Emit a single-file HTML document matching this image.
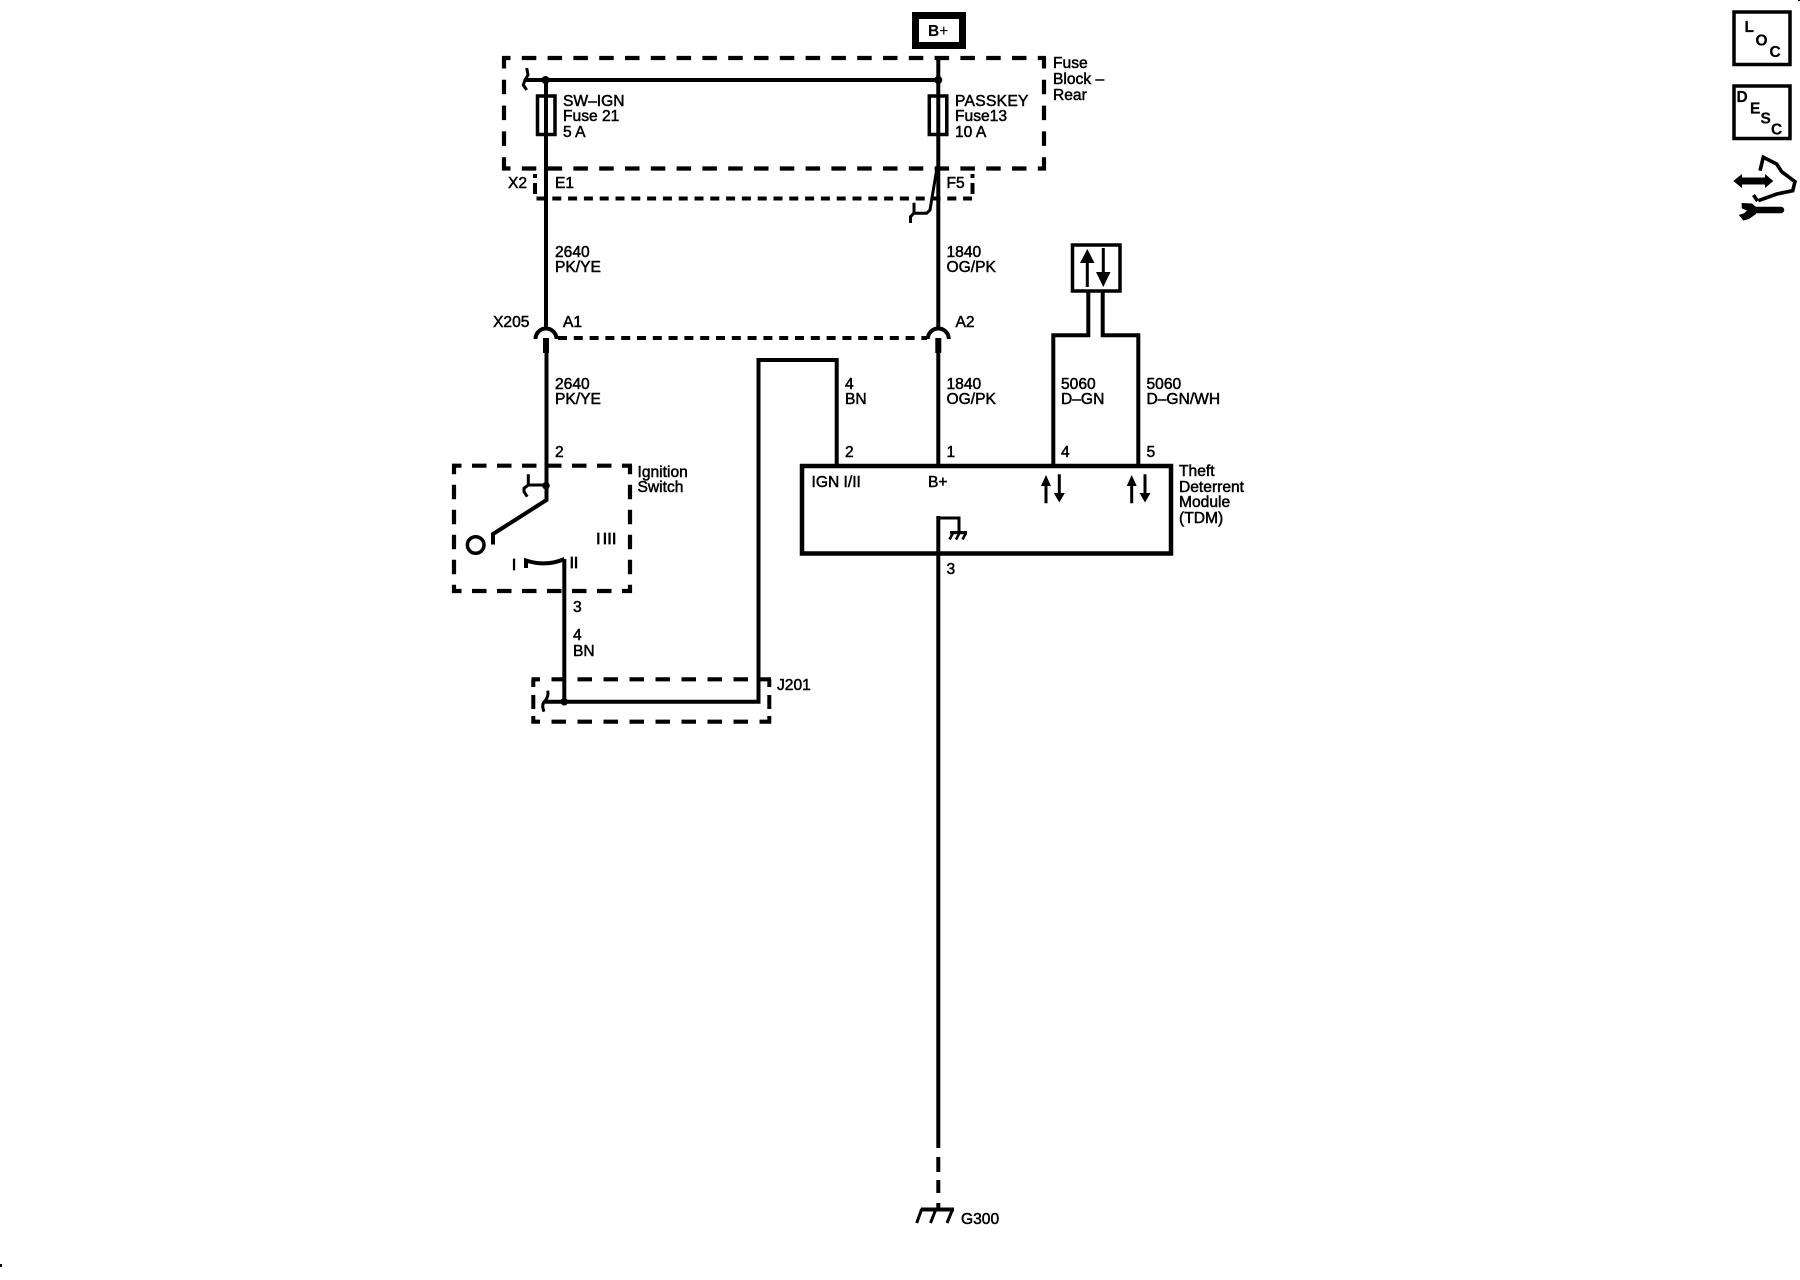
<!DOCTYPE html>
<html>
<head>
<meta charset="utf-8">
<style>
html,body{margin:0;padding:0;background:#fff;}
svg{display:block;}
text{font-family:"Liberation Sans",sans-serif;font-size:15.6px;fill:#000;stroke:#000;stroke-width:.5px;}
.w{fill:none;stroke:#000;stroke-width:4;}
.d{fill:none;stroke:#000;stroke-width:4.2;stroke-dasharray:14.5 11.3;stroke-dashoffset:6;}
.e{fill:none;stroke:#000;stroke-width:4.2;stroke-dasharray:14.5 10.5;}
.s{fill:none;stroke:#000;stroke-width:4;stroke-dasharray:9 6.8;}
.h{fill:none;stroke:#000;stroke-width:3;}
.i{font-weight:bold;font-size:15.5px;stroke-width:.2px;}
</style>
</head>
<body>
<svg width="1800" height="1280" viewBox="0 0 1800 1280" xmlns="http://www.w3.org/2000/svg">
<rect width="1800" height="1280" fill="#fff"/>

<!-- B+ -->
<rect x="915.5" y="15.5" width="47" height="30" fill="none" stroke="#000" stroke-width="7"/>
<text x="928" y="36" style="font-weight:bold;font-size:15.5px;stroke-width:.1px">B<tspan style="font-weight:normal">+</tspan></text>

<!-- Fuse block -->
<path class="d" d="M502 58H1046"/>
<path class="d" d="M502 168.5H1046"/>
<path class="d" d="M504 58V170" style="stroke-dashoffset:4"/>
<path class="d" d="M1044 58V170" style="stroke-dashoffset:4"/>
<path class="w" d="M525 80H938"/>
<path class="w" d="M938.3 58V328"/>
<path class="w" d="M546 80V328"/>
<circle cx="545.5" cy="80" r="4"/><circle cx="938.3" cy="80" r="4"/>
<path class="h" d="M526.7 68L528 75L525 80L523.3 85L526.7 90"/>
<rect x="537.5" y="96" width="17.5" height="38.5" fill="none" stroke="#000" stroke-width="3.5"/>
<rect x="929.3" y="96" width="17.5" height="38.5" fill="none" stroke="#000" stroke-width="3.5"/>
<text x="563" y="106">SW–IGN</text>
<text x="563" y="121">Fuse 21</text>
<text x="563" y="137">5 A</text>
<text x="955" y="106" style="letter-spacing:.3px">PASSKEY</text>
<text x="955" y="121">Fuse13</text>
<text x="955" y="137">10 A</text>
<text x="1053" y="68">Fuse</text>
<text x="1053" y="84">Block –</text>
<text x="1053" y="100">Rear</text>

<!-- X2 -->
<path class="s" d="M536.5 198.5H972"/>
<path class="w" d="M535 174V178M535 183V194M972.5 174V178M972.5 183V194"/>
<text x="508" y="188">X2</text>
<text x="555" y="188">E1</text>
<text x="946.5" y="188">F5</text>
<path class="h" d="M936.7 170L933.3 190L930 210L926.7 213.3H913.3"/>
<path class="h" d="M914 202.7V213L910.5 216.7V223"/>

<text x="555" y="257">2640</text>
<text x="555" y="272">PK/YE</text>
<text x="946.5" y="257">1840</text>
<text x="946.5" y="272">OG/PK</text>

<!-- X205 -->
<text x="493" y="327">X205</text>
<text x="563" y="327">A1</text>
<text x="955.5" y="327">A2</text>
<path class="w" d="M535.5 339A10.5 10.5 0 0 1 556.5 339"/>
<path class="w" d="M927.8 339A10.5 10.5 0 0 1 948.8 339"/>
<path class="s" d="M558 338H927"/>
<rect x="543" y="338" width="6" height="15"/>
<rect x="935.3" y="338" width="6" height="15"/>

<!-- lower labels -->
<text x="555" y="389">2640</text>
<text x="555" y="404">PK/YE</text>
<text x="555" y="457">2</text>
<text x="845" y="389">4</text>
<text x="845" y="404">BN</text>
<text x="845" y="457">2</text>
<text x="946.5" y="389">1840</text>
<text x="946.5" y="404">OG/PK</text>
<text x="946.5" y="457">1</text>
<text x="1061" y="389">5060</text>
<text x="1061" y="404">D–GN</text>
<text x="1061" y="457">4</text>
<text x="1146.5" y="389">5060</text>
<text x="1146.5" y="404">D–GN/WH</text>
<text x="1146.5" y="457">5</text>

<!-- Ignition switch -->
<path class="e" d="M452 465.7H632" style="stroke-dashoffset:5"/>
<path class="e" d="M452 591H632" style="stroke-dashoffset:5"/>
<path class="e" d="M454 465.7V593" style="stroke-dashoffset:6"/>
<path class="e" d="M630 465.7V593" style="stroke-dashoffset:6"/>
<text x="637.5" y="477">Ignition</text>
<text x="637.5" y="492">Switch</text>
<path class="w" d="M546.5 353V500L493 534V544.5"/>
<circle cx="546" cy="485.7" r="3.8"/>
<path class="h" d="M546 485H528.3V474.3M528.3 485L524 488.3V491.7L527.3 496.7" stroke-width="3.3"/>
<circle cx="475.7" cy="545" r="8.3" fill="none" stroke="#000" stroke-width="3.5"/>
<text x="596.1" y="544" style="stroke-width:.8px">I</text>
<text x="602.8" y="544" style="stroke-width:.8px;letter-spacing:.25px">III</text>
<text x="511.9" y="570" style="stroke-width:.8px">I</text>
<text x="569.6" y="568" style="stroke-width:.8px">II</text>
<path class="w" d="M526 568V560.5Q546 567 564.5 559"/>
<path class="w" d="M564.3 559V702"/>
<text x="573" y="612">3</text>
<text x="573" y="640">4</text>
<text x="573" y="656">BN</text>

<!-- J201 -->
<path class="d" style="stroke-dasharray:14.5 11.5" d="M531.5 679.3H771"/>
<path class="d" style="stroke-dasharray:14.5 11.5" d="M531.5 721.7H771"/>
<path class="w" d="M533.3 679.3V687M533.3 695V709M533.3 716V723.5M769.3 679.3V687M769.3 695V709M769.3 716V723.5"/>
<text x="777" y="690">J201</text>
<path class="w" d="M545 701.7H758.5V360H836.7V465"/>
<circle cx="564.3" cy="701.7" r="3.8"/>
<path class="h" d="M547.7 690.7Q549 696 545 701Q541 704 544 711.7"/>

<!-- TDM -->
<rect x="802" y="466" width="369" height="87.5" fill="none" stroke="#000" stroke-width="4.5"/>
<text x="811.5" y="487">IGN I/II</text>
<text x="928" y="487">B+</text>
<text x="1179" y="476">Theft</text>
<text x="1179" y="492">Deterrent</text>
<text x="1179" y="507">Module</text>
<text x="1179" y="523">(TDM)</text>
<path class="w" d="M938.3 353V466"/>
<path class="h" d="M938.3 518H959V532" stroke-width="3.5"/>
<path class="w" d="M938.3 516V1148"/>
<rect x="950" y="531" width="17" height="3.2"/>
<path d="M953 533L949.5 539.5M959.5 533L956 539.5M966 533L962.5 539.5" stroke="#000" stroke-width="2.6"/>
<text x="946.5" y="574">3</text>

<!-- arrow pairs -->
<path class="h" d="M1046 482V503.3M1059.3 474.3V495M1131.7 482V503.3M1145 474.3V495" stroke-width="3.6"/>
<polygon points="1046,475 1051,486 1041,486"/>
<polygon points="1059.3,502.5 1053.8,493 1064.8,493"/>
<polygon points="1131.7,475 1136.7,486 1126.7,486"/>
<polygon points="1145,502.5 1139.5,493 1150.5,493"/>

<!-- Serial data box -->
<rect x="1072.5" y="245" width="47.5" height="46" fill="none" stroke="#000" stroke-width="3.5"/>
<path class="h" d="M1087.3 258V287M1103.3 248V277" stroke-width="3.8"/>
<polygon points="1087.3,249 1094.5,263 1080,263"/>
<polygon points="1103.3,287 1096,272 1110.5,272"/>
<path class="w" d="M1088.3 291V335.3H1053.3V466" stroke-width="4.5"/>
<path class="w" d="M1102.7 291V335.3H1138.3V466" stroke-width="3.5"/>

<!-- Ground -->
<path class="w" d="M938.3 1157V1172M938.3 1180V1193M938.3 1203V1209"/>
<path d="M921 1209.5H954" stroke="#000" stroke-width="4"/>
<path d="M921.7 1209L916.7 1223M936 1209L930.5 1223M952.7 1209L947 1223" stroke="#000" stroke-width="3"/>
<text x="961" y="1224">G300</text>

<!-- Right icons -->
<rect x="1734" y="12" width="56" height="52.5" fill="none" stroke="#000" stroke-width="3.5"/>
<text class="i" x="1744.5" y="32">L</text>
<text class="i" x="1755.5" y="45.5">O</text>
<text class="i" x="1769.5" y="57">C</text>
<rect x="1734" y="86" width="56" height="52.5" fill="none" stroke="#000" stroke-width="3.5"/>
<text class="i" x="1736.5" y="102">D</text>
<text class="i" x="1750" y="113.5">E</text>
<text class="i" x="1760.5" y="123.5">S</text>
<text class="i" x="1771" y="134.5">C</text>

<path d="M1738 181H1769" stroke="#000" stroke-width="7"/>
<polygon points="1733.3,181 1742,174 1742,188"/>
<polygon points="1773.3,181 1765,174 1765,188"/>
<path d="M1760 170.7L1763.3 157.3L1776.7 164L1781.7 171.7L1795 181.7L1792.7 190.7L1776.7 194L1758.3 200.7" fill="none" stroke="#000" stroke-width="3.6"/>
<path d="M1753.5 195L1757.5 201" stroke="#000" stroke-width="3.5"/>
<path d="M1755 210H1781" stroke="#000" stroke-width="6.5" stroke-linecap="round"/>
<polygon points="1741.7,203 1752,203.5 1756,207 1756,214 1749,219 1743.3,220.5 1738.8,215 1744,213.3 1747,210.7 1741.7,208.3"/>

<rect x="0" y="1264" width="2" height="3"/>
<rect x="1798" y="0" width="2" height="1"/>
</svg>
</body>
</html>
